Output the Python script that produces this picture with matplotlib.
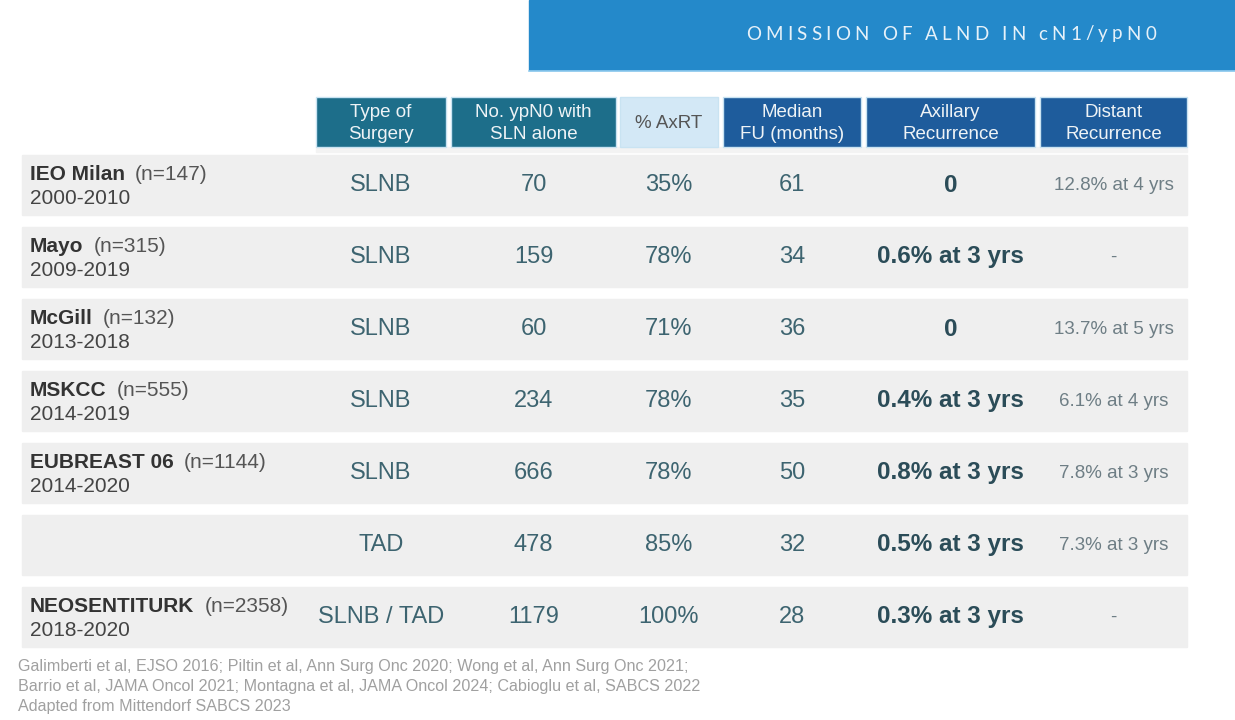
import matplotlib.pyplot as plt
from matplotlib.patches import Rectangle
from matplotlib.font_manager import FontProperties

# data
title = "OMISSION OF ALND IN cN1/ypN0"
headers = ["Type of\nSurgery", "No. ypN0 with\nSLN alone", "% AxRT",
           "Median\nFU (months)", "Axillary\nRecurrence", "Distant\nRecurrence"]
studies = ["IEO Milan", "Mayo", "McGill", "MSKCC", "EUBREAST 06", "", "NEOSENTITURK"]
n_labels = ["(n=147)", "(n=315)", "(n=132)", "(n=555)", "(n=1144)", "", "(n=2358)"]
years = ["2000-2010", "2009-2019", "2013-2018", "2014-2019", "2014-2020", "", "2018-2020"]
surgery = ["SLNB", "SLNB", "SLNB", "SLNB", "SLNB", "TAD", "SLNB / TAD"]
ypn0 = [70, 159, 60, 234, 666, 478, 1179]
axrt = ["35%", "78%", "71%", "78%", "78%", "85%", "100%"]
median_fu = [61, 34, 36, 35, 50, 32, 28]
axillary = ["0", "0.6% at 3 yrs", "0", "0.4% at 3 yrs", "0.8% at 3 yrs",
            "0.5% at 3 yrs", "0.3% at 3 yrs"]
distant = ["12.8% at 4 yrs", "-", "13.7% at 5 yrs", "6.1% at 4 yrs",
           "7.8% at 3 yrs", "7.3% at 3 yrs", "-"]
refs = ["Galimberti et al, EJSO 2016; Piltin et al, Ann Surg Onc 2020; Wong et al, Ann Surg Onc 2021;",
        "Barrio et al, JAMA Oncol 2021; Montagna et al, JAMA Oncol 2024; Cabioglu et al, SABCS 2022",
        "Adapted from Mittendorf SABCS 2023"]

plt.rcParams['font.family'] = ['Liberation Sans', 'DejaVu Sans']

fig = plt.figure(figsize=(12.35, 7.2), dpi=100)
ax = fig.add_axes([0, 0, 1, 1])
ax.set_xlim(0, 1235)
ax.set_ylim(720, 0)
ax.axis('off')

# title bar
ax.add_patch(Rectangle((529, 0), 706, 70, color='#2489ca', zorder=1))
ax.plot([529, 1235], [70.5, 70.5], color='#8fcbef', lw=1.2, zorder=2)

# title with letter spacing, char by char
renderer = fig.canvas.get_renderer()
fp = FontProperties(family=['Lato', 'DejaVu Sans'], size=13.5)
tracking = 4.2
widths = []
for ch in title:
    w, h, d = renderer.get_text_width_height_descent(ch, fp, ismath=False)
    widths.append(w)
total = sum(widths) + tracking * (len(title) - 1)
x = 951 - total / 2
for ch, w in zip(title, widths):
    ax.text(x, 34, ch, fontproperties=fp, color='#e6f1f9', ha='left', va='center', zorder=3)
    x += w + tracking

# header cells
col_left = [316, 451, 620, 723, 866, 1040]
col_right = [446, 616, 718, 861, 1035, 1187]
head_bg = ['#1d6e8a', '#1d6e8a', '#d3e8f6', '#1e5c9c', '#1e5c9c', '#1e5c9c']
head_fg = ['#eef3f6', '#eef3f6', '#555555', '#eef3f6', '#eef3f6', '#eef3f6']
ax.add_patch(Rectangle((316, 147), 871, 5, color='#f3f3f3', zorder=1))
for l, r, bg, fg, txt in zip(col_left, col_right, head_bg, head_fg, headers):
    ax.add_patch(Rectangle((l, 97), r - l, 50, facecolor=bg, edgecolor='#c9e3f2',
                           lw=1.0, zorder=2))
    ax.text((l + r) / 2, 123.5, txt, ha='center', va='center', fontsize=13.5,
            color=fg, linespacing=1.4, zorder=3)

centers = [(l + r) / 2 for l, r in zip(col_left, col_right)]
centers[0] = 381

# body rows
row_top = 155
row_step = 72
row_h = 60
for i in range(len(studies)):
    top = row_top + i * row_step
    cy = top + row_h / 2
    ax.add_patch(Rectangle((22, top), 1165, row_h, color='#efefef', zorder=1))
    if studies[i]:
        t = ax.text(30, cy - 11, studies[i], fontsize=15, fontweight='bold',
                    color='#333333', ha='left', va='center', zorder=3)
        bb = t.get_window_extent(renderer=renderer)
        ax.text(30 + bb.width + 10, cy - 11, n_labels[i], fontsize=15,
                color='#555555', ha='left', va='center', zorder=3)
        ax.text(30, cy + 14, years[i], fontsize=15, color='#444444',
                ha='left', va='center', zorder=3)
    vals = [surgery[i], str(ypn0[i]), axrt[i], str(median_fu[i])]
    for c, v in zip(centers[:4], vals):
        ax.text(c, cy, v, fontsize=17, color='#3d6470', ha='center', va='center', zorder=3)
    ax.text(centers[4], cy, axillary[i], fontsize=17.5, fontweight='bold',
            color='#2b4c58', ha='center', va='center', zorder=3)
    ax.text(centers[5], cy, distant[i], fontsize=13.5, color='#6e7e85',
            ha='center', va='center', zorder=3)

# references
for k, line in enumerate(refs):
    ax.text(18, 667 + k * 20, line, fontsize=11.6, color='#a0a0a0',
            ha='left', va='center', zorder=3)

fig.savefig('out.png', dpi=100, facecolor='white')
